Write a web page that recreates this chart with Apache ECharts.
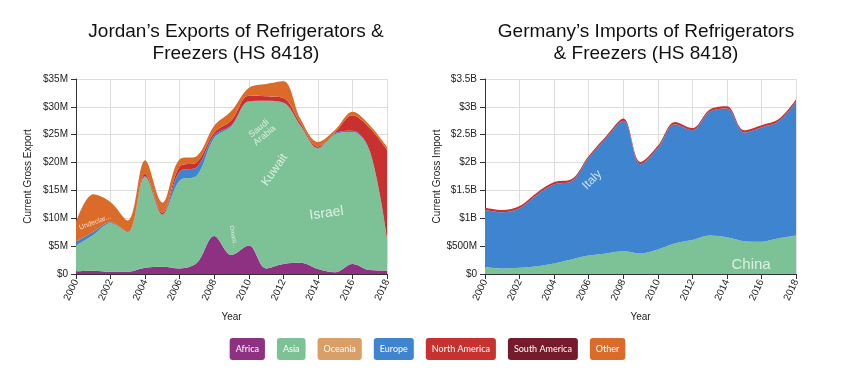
<!DOCTYPE html>
<html><head><meta charset="utf-8">
<script src="https://cdn.jsdelivr.net/npm/echarts@6/dist/echarts.min.js"></script>
<style>html,body{margin:0;padding:0;background:#fff}#c{width:850px;height:392px}</style>
</head><body><div id="c"></div>
<script>
window.onerror = function(m){ document.body.insertAdjacentHTML('beforeend','<pre>'+m+'</pre>'); };
const years = ['2000','2001','2002','2003','2004','2005','2006','2007','2008','2009','2010','2011','2012','2013','2014','2015','2016','2017','2018'];
const continents = ['Africa','Asia','Oceania','Europe','North America','South America','Other'];
// Jordan exports, $M
const jordanAfrica  = [0.5,0.6,0.4,0.4,1.1,1.3,1.0,2.0,6.8,3.4,5.1,1.0,1.8,2.0,0.9,0.3,1.8,0.7,0.6];
const jordanAsia    = [4.6,6.4,8.7,7.0,16.3,9.3,15.8,15.7,17.6,23.1,25.8,30.0,28.9,24.5,21.6,24.8,23.7,21.3,5.9];
const jordanOceania = [0,0,0,0,0,0,0,0,0,0,0,0,0,0,0,0,0,0,0];
const jordanEurope  = [0.7,0.6,0.2,0.1,0.2,0.1,1.6,1.5,0.5,0.2,0.1,0.1,0.1,0.1,0.1,0.2,0.2,0.1,0];
const jordanNAm     = [0,0,0,0,0.4,0.3,0.9,0.9,0.5,0.9,1.0,0.8,0.8,0.4,0.3,0.2,2.8,4.1,15.8];
const jordanSAm     = [0,0,0,0,0,0,0,0,0,0,0,0,0,0,0,0,0,0,0];
const jordanOther   = [3.5,6.7,3.6,2.1,2.4,1.8,1.3,1.1,1.2,1.7,1.4,2.2,3.0,0.8,0.8,0.4,0.6,0.5,0.5];
// Germany imports, $B
const germanyAfrica  = [0,0,0,0,0,0,0,0,0,0,0,0,0,0,0,0,0,0,0];
const germanyAsia    = [0.12,0.10,0.11,0.14,0.19,0.26,0.33,0.37,0.41,0.37,0.44,0.55,0.61,0.69,0.66,0.59,0.58,0.64,0.69];
const germanyOceania = [0,0,0,0,0,0,0,0,0,0,0,0,0,0,0,0,0,0,0];
const germanyEurope  = [1.03,1.01,1.07,1.28,1.42,1.40,1.75,2.06,2.34,1.60,1.82,2.14,1.97,2.22,2.31,1.95,2.05,2.10,2.40];
const germanyNAm     = [0.04,0.04,0.04,0.04,0.04,0.04,0.04,0.04,0.04,0.04,0.04,0.04,0.04,0.04,0.04,0.04,0.04,0.04,0.04];
const germanySAm     = [0,0,0,0,0,0,0,0,0,0,0,0,0,0,0,0,0,0,0];
const germanyOther   = [0,0,0,0,0,0,0,0,0,0,0,0,0,0,0,0,0,0,0];
// Country annotations: [name, year, value]
const jordanLabels = [['Undeclar...',2001.1,9.3],['Saudi\nArabia',2010.75,25.5],['Kuwait',2011.5,18.7],['Israel',2014.5,10.9],['Omani...',2009.1,6.7]];
const germanyLabels = [['Italy',2006.2,1.69],['China',2015.4,0.16]];

const colors = {'Africa':'#8e3183','Asia':'#7dc196','Oceania':'#d99f66','Europe':'#3f84cf','North America':'#c8312f','South America':'#751b2c','Other':'#db6b28'};
const labelStyle = {
  'Undeclar...':{size:7,rot:20}, 'Saudi\nArabia':{size:9,rot:40}, 'Kuwait':{size:12,rot:55},
  'Israel':{size:14,rot:8}, 'Omani...':{size:6,rot:-80}, 'Italy':{size:12,rot:45}, 'China':{size:15,rot:0}
};
const jordanData = [jordanAfrica,jordanAsia,jordanOceania,jordanEurope,jordanNAm,jordanSAm,jordanOther];
const germanyData = [germanyAfrica,germanyAsia,germanyOceania,germanyEurope,germanyNAm,germanySAm,germanyOther];

const FONT = 'Liberation Sans, Arial, sans-serif';
function areaSeries(dataSets, idx, stack) {
  return continents.map((c,i)=>({
    name:c, type:'line', stack:stack, xAxisIndex:idx, yAxisIndex:idx,
    smooth:0.35, symbol:'none', showSymbol:false,
    lineStyle:{width:0}, areaStyle:{color:colors[c], opacity:1}, itemStyle:{color:colors[c]},
    data: dataSets[i].slice(), z:2
  }));
}
function labelSeries(labels, idx) {
  return {
    type:'scatter', xAxisIndex:idx+2, yAxisIndex:idx, symbolSize:0, silent:true, z:5,
    data: labels.map(l=>({value:[l[1],l[2]], name:l[0],
      label:{show:true, position:'inside', formatter:l[0], rotate:labelStyle[l[0]].rot,
        fontSize:labelStyle[l[0]].size, color:'rgba(255,255,255,0.92)', fontFamily:FONT, lineHeight:labelStyle[l[0]].size}}))
  };
}
function xAx(idx){
  return {type:'category', gridIndex:idx, data:years, boundaryGap:false,
    name:'Year', nameLocation:'middle', nameGap:38, nameTextStyle:{fontSize:10, color:'#222', fontFamily:FONT},
    axisLine:{lineStyle:{color:'#333'}}, axisTick:{lineStyle:{color:'#333'}, length:5, interval:1},
    axisLabel:{rotate:65, fontSize:10, color:'#222', fontFamily:FONT, interval:1, margin:6},
    splitLine:{show:true, interval:1, lineStyle:{color:'#ddd'}}};
}
function xHidden(idx){
  return {type:'value', gridIndex:idx, min:2000, max:2018, show:false};
}
function yAx(idx, max, interval, name, fmt){
  return {type:'value', gridIndex:idx, min:0, max:max, interval:interval,
    name:name, nameLocation:'middle', nameGap:43, nameTextStyle:{fontSize:10, color:'#222', fontFamily:FONT},
    axisLine:{show:true, lineStyle:{color:'#333'}}, axisTick:{show:true, lineStyle:{color:'#333'}, length:5},
    axisLabel:{fontSize:10, color:'#222', fontFamily:FONT, formatter:fmt, margin:8},
    splitLine:{show:true, lineStyle:{color:'#ddd'}}};
}
const fmtM = v => v===0 ? '$0' : '$'+v+'M';
const fmtB = v => v===0 ? '$0' : (v<1 ? '$'+Math.round(v*1000)+'M' : '$'+v+'B');

const chart = echarts.init(document.getElementById('c'), null, {renderer:'canvas'});
chart.setOption({
  animation:false,
  title:[
    {text:'Jordan’s Exports of Refrigerators &\nFreezers (HS 8418)', left:231, top:16, textAlign:'center',
     textStyle:{fontSize:19, fontWeight:'normal', color:'#111', fontFamily:FONT, lineHeight:22}},
    {text:'Germany’s Imports of Refrigerators\n& Freezers (HS 8418)', left:641, top:16, textAlign:'center',
     textStyle:{fontSize:19, fontWeight:'normal', color:'#111', fontFamily:FONT, lineHeight:22}}
  ],
  grid:[{left:76, right:463, top:79, bottom:118},{left:485, right:54, top:79, bottom:118}],
  xAxis:[xAx(0), xAx(1), xHidden(0), xHidden(1)],
  yAxis:[yAx(0,35,5,'Current Gross Export',fmtM), yAx(1,3.5,0.5,'Current Gross Import',fmtB)],
  legend:{
    top:333, left:'center', itemGap:7, itemWidth:0, itemHeight:0, icon:'rect', selectedMode:true,
    data: continents.map(c=>({name:c, textStyle:{backgroundColor:colors[c], color:'#fff', borderRadius:3,
      padding:[7,6,6,6], fontSize:9, fontFamily:'Lato, sans-serif'}}))
  },
  series:[...areaSeries(jordanData,0,'j'), ...areaSeries(germanyData,1,'g'),
          labelSeries(jordanLabels,0), labelSeries(germanyLabels,1)]
});
</script></body></html>
